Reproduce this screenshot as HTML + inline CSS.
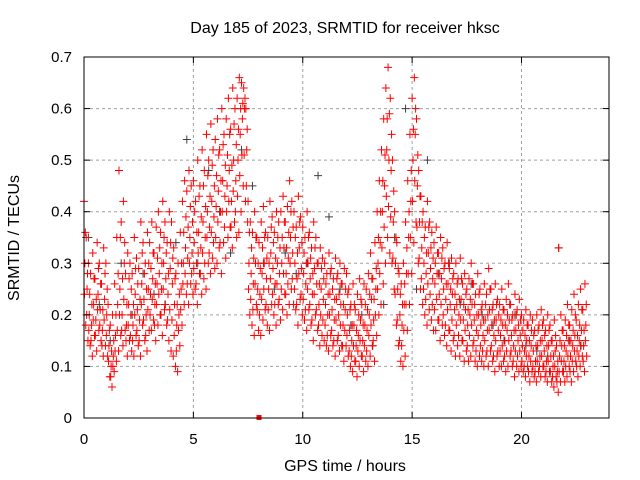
<!DOCTYPE html>
<html><head><meta charset="utf-8"><style>
body{margin:0;background:#fff}
svg{display:block;font-family:"Liberation Sans",sans-serif}
</style></head><body>
<svg id="chart" width="640" height="480">
<g id="grid"></g>
<g id="gray"></g>
<g id="red"></g>
<rect x="84" y="57" width="525" height="361" fill="none" stroke="#000" stroke-width="1"/>
<g id="ticks"></g>
<text x="345" y="33" text-anchor="middle" font-size="16">Day 185 of 2023, SRMTID for receiver hksc</text>
<text x="345" y="471" text-anchor="middle" font-size="16">GPS time / hours</text>
<text transform="translate(19,238) rotate(-90)" text-anchor="middle" font-size="16">SRMTID / TECUs</text>
</svg>
<script>
const xTicks=[0,5,10,15,20];
const yTicks=[0,0.1,0.2,0.3,0.4,0.5,0.6,0.7];
const yTickLabels=["0","0.1","0.2","0.3","0.4","0.5","0.6","0.7"];
const seriesStep=0.1;
const redA=[.30,.25,.20,.18,.22,.19,.24,.21,.17,.23,.20,.14,.10,.12,.16,.22,.25,.20,.30,.18,.22,.20,.18,.24,.21,.19,.26,.23,.20,.25,.24,.27,.22,.26,.28,.25,.30,.27,.24,.29,.26,.22,.18,.20,.25,.30,.33,.31,.35,.32,.34,.30,.36,.33,.38,.35,.40,.37,.42,.39,.41,.44,.40,.46,.43,.45,.48,.42,.50,.46,.50,.55,.58,.60,.52,.30,.28,.26,.30,.25,.24,.28,.30,.27,.25,.32,.29,.26,.30,.28,.30,.33,.28,.31,.35,.32,.30,.27,.33,.29,.28,.26,.30,.27,.24,.29,.26,.22,.25,.23,.22,.20,.24,.21,.19,.23,.20,.22,.18,.21,.20,.17,.15,.18,.14,.16,.19,.15,.18,.17,.20,.23,.19,.25,.30,.34,.40,.45,.52,.50,.48,.38,.30,.25,.20,.18,.22,.28,.35,.42,.50,.55,.45,.38,.33,.30,.28,.32,.29,.27,.26,.28,.24,.27,.25,.23,.26,.22,.24,.21,.22,.20,.23,.19,.21,.18,.20,.22,.19,.17,.20,.18,.16,.19,.17,.21,.18,.16,.19,.17,.16,.18,.15,.17,.19,.16,.14,.17,.15,.16,.14,.13,.15,.12,.14,.13,.11,.14,.12,.15,.13,.11,.14,.12,.10,.13,.09,.12,.14,.11,.13,.15,.12,.14,.16,.13,.15,.17,.14,.18];
const redB=[.18,.15,.14,.12,.16,.13,.17,.15,.12,.14,.12,.08,.06,.09,.11,.13,.16,.14,.17,.12,.15,.13,.12,.16,.14,.12,.18,.15,.13,.17,.17,.19,.15,.18,.20,.16,.21,.18,.15,.13,.12,.10,.09,.14,.18,.22,.24,.22,.26,.24,.25,.22,.28,.24,.27,.25,.30,.28,.31,.29,.30,.33,.28,.34,.31,.35,.37,.33,.38,.35,.36,.40,.45,.42,.38,.20,.18,.16,.22,.17,.16,.19,.21,.18,.17,.22,.20,.18,.22,.19,.21,.24,.20,.22,.25,.22,.21,.18,.23,.20,.19,.17,.21,.18,.15,.20,.17,.14,.16,.15,.14,.13,.16,.14,.12,.15,.13,.14,.11,.14,.12,.10,.09,.11,.08,.10,.12,.09,.11,.10,.12,.14,.11,.16,.20,.22,.26,.30,.35,.32,.30,.25,.18,.14,.11,.10,.12,.17,.22,.28,.34,.38,.30,.25,.22,.20,.18,.21,.19,.17,.17,.19,.15,.18,.16,.14,.17,.13,.15,.12,.14,.12,.15,.11,.13,.11,.12,.14,.11,.10,.12,.11,.10,.12,.10,.13,.11,.09,.12,.10,.10,.11,.09,.10,.12,.10,.08,.10,.09,.10,.09,.08,.10,.07,.09,.08,.07,.09,.08,.10,.08,.07,.09,.07,.06,.08,.05,.07,.09,.07,.08,.10,.07,.09,.11,.08,.10,.12,.09,.12];
const redC=[.42,.35,.30,.28,.32,.27,.34,.30,.26,.33,.30,.22,.18,.20,.26,.35,.48,.38,.42,.28,.32,.30,.28,.35,.31,.29,.38,.34,.30,.36,.34,.38,.32,.37,.40,.36,.42,.38,.34,.40,.38,.33,.28,.30,.36,.42,.46,.44,.48,.45,.46,.42,.50,.45,.52,.48,.55,.50,.57,.52,.54,.58,.52,.60,.55,.58,.62,.56,.64,.60,.62,.66,.65,.64,.60,.42,.38,.36,.40,.35,.34,.38,.41,.36,.35,.42,.39,.36,.40,.38,.40,.43,.38,.41,.46,.42,.40,.37,.43,.39,.37,.35,.40,.36,.33,.38,.35,.30,.33,.31,.30,.28,.32,.29,.27,.31,.28,.30,.26,.29,.28,.25,.22,.26,.21,.24,.27,.22,.26,.25,.28,.32,.27,.34,.40,.46,.52,.58,.64,.68,.62,.50,.40,.34,.28,.26,.30,.38,.46,.55,.62,.66,.58,.48,.43,.40,.37,.42,.38,.36,.34,.37,.32,.35,.33,.30,.34,.29,.31,.28,.30,.27,.31,.26,.28,.25,.27,.30,.26,.24,.28,.25,.22,.26,.24,.29,.25,.22,.26,.23,.22,.25,.21,.23,.26,.22,.20,.24,.21,.23,.20,.19,.21,.18,.20,.19,.17,.20,.18,.21,.19,.17,.20,.18,.15,.19,.14,.33,.20,.17,.19,.22,.18,.21,.24,.19,.22,.25,.21,.26];
const redD=[.36,.28,.24,.22,.27,.23,.29,.26,.21,.28,.25,.17,.13,.15,.20,.28,.35,.27,.34,.22,.27,.25,.22,.29,.26,.23,.32,.28,.25,.30,.29,.32,.26,.31,.33,.30,.35,.32,.28,.34,.31,.27,.22,.24,.30,.36,.39,.37,.41,.38,.40,.36,.43,.39,.45,.41,.47,.43,.49,.45,.47,.51,.46,.53,.49,.51,.55,.49,.57,.53,.56,.60,.61,.62,.56,.36,.33,.31,.35,.30,.29,.33,.35,.31,.30,.37,.34,.31,.35,.33,.35,.38,.33,.36,.40,.37,.35,.32,.38,.34,.32,.30,.35,.31,.28,.33,.30,.26,.29,.27,.26,.24,.28,.25,.23,.27,.24,.26,.22,.25,.24,.21,.18,.22,.17,.20,.23,.18,.22,.21,.24,.27,.23,.29,.35,.40,.46,.51,.58,.59,.55,.44,.35,.29,.24,.22,.26,.33,.40,.48,.56,.60,.51,.43,.38,.35,.32,.37,.33,.31,.30,.32,.28,.31,.29,.26,.30,.25,.27,.24,.26,.23,.27,.22,.24,.21,.23,.26,.22,.20,.24,.21,.19,.22,.20,.25,.21,.19,.22,.20,.19,.21,.18,.20,.22,.19,.17,.20,.18,.19,.17,.16,.18,.15,.17,.16,.14,.17,.15,.18,.16,.14,.17,.15,.12,.16,.11,.15,.17,.14,.16,.18,.15,.17,.20,.16,.18,.21,.17,.22];
const redE=[.24,.20,.17,.15,.19,.16,.21,.18,.14,.19,.16,.11,.08,.10,.13,.17,.20,.17,.23,.15,.18,.16,.15,.20,.17,.15,.22,.19,.16,.21,.20,.23,.18,.22,.24,.20,.25,.22,.19,.21,.19,.16,.13,.17,.21,.26,.28,.26,.30,.28,.29,.26,.32,.28,.32,.30,.35,.32,.36,.34,.35,.38,.34,.40,.37,.40,.42,.37,.44,.40,.43,.47,.51,.51,.45,.25,.23,.21,.26,.21,.20,.23,.25,.22,.21,.27,.24,.22,.26,.23,.25,.28,.24,.26,.30,.27,.25,.22,.28,.24,.23,.21,.25,.22,.19,.24,.21,.18,.20,.19,.18,.16,.20,.17,.15,.19,.16,.18,.14,.17,.16,.13,.12,.14,.11,.13,.15,.12,.14,.13,.16,.18,.15,.20,.25,.28,.33,.37,.43,.41,.39,.31,.24,.19,.15,.14,.17,.22,.28,.35,.42,.46,.37,.31,.27,.25,.23,.26,.24,.22,.21,.23,.19,.22,.20,.18,.21,.17,.19,.16,.18,.16,.19,.15,.17,.14,.16,.18,.15,.13,.16,.14,.13,.15,.13,.17,.14,.12,.15,.13,.13,.14,.12,.13,.15,.13,.11,.13,.12,.13,.11,.10,.12,.09,.11,.10,.09,.11,.10,.12,.10,.09,.11,.09,.08,.10,.07,.09,.11,.09,.10,.12,.09,.11,.13,.10,.12,.14,.11,.15];
const grayStep=0.5;
const grayV=[.35,.22,.15,.30,.20,.28,.24,.22,.34,.54,.30,.48,.40,.32,.52,.45,.30,.25,.32,.28,.30,.47,.39,.25,.18,.20,.14,.22,.35,.60,.25,.50,.28,.30,.22,.26,.20,.18,.15,.20,.14,.13,.12,.33,.15,.14];
const markTimes=[8];
const markVals=[0];

const NS="http://www.w3.org/2000/svg";
const X0=84,X1=609,Y0=418,Y1=57,XMAX=24,YMAX=0.7;
const sx=t=>X0+(X1-X0)*t/XMAX;
const sy=v=>Y0-(Y0-Y1)*v/YMAX;
function mk(tag,attrs,parent){const e=document.createElementNS(NS,tag);for(const k in attrs)e.setAttribute(k,attrs[k]);parent.appendChild(e);return e;}
const grid=document.getElementById('grid'),ticks=document.getElementById('ticks');
xTicks.forEach(t=>{
  const x=sx(t);
  if(t>0){const g=mk('line',{x1:x,x2:x,y1:Y1,y2:Y0,stroke:'#a0a0a0','stroke-dasharray':'3,3'},grid);
  
  }
  mk('line',{x1:x,x2:x,y1:Y0,y2:Y0-6,stroke:'#000'},ticks);
  mk('line',{x1:x,x2:x,y1:Y1,y2:Y1+6,stroke:'#000'},ticks);
  const l=mk('text',{x:x,y:444,'text-anchor':'middle','font-size':15},ticks);
  l.textContent=String(t);
  
  
});
yTicks.forEach((v,i)=>{
  const y=sy(v);
  if(v>0&&v<YMAX){const g=mk('line',{x1:X0,x2:X1,y1:y,y2:y,stroke:'#a0a0a0','stroke-dasharray':'3,3'},grid);
  
  }
  mk('line',{x1:X0,x2:X0+6,y1:y,y2:y,stroke:'#000'},ticks);
  mk('line',{x1:X1,x2:X1-6,y1:y,y2:y,stroke:'#000'},ticks);
  const l=mk('text',{x:72,y:y+5,'text-anchor':'end','font-size':15},ticks);
  l.textContent=yTickLabels[i];
  
  
});
function plus(parent,t,v,color,name){
  const x=sx(t),y=sy(v);
  const p=mk('path',{d:`M${x-4},${y}h8M${x},${y-4}v8`,stroke:color,'stroke-width':1,fill:'none'},parent);
  
  
}
const gray=document.getElementById('gray'),red=document.getElementById('red');
grayV.forEach((v,i)=>plus(gray,i*grayStep+0.2,v,'#404040','gray-point'));
redC.forEach((v,i)=>plus(red,i*seriesStep,v,'#ff0000','red-point'));
redE.forEach((v,i)=>plus(red,i*seriesStep+0.02,v,'#ff0000','red-point'));
redA.forEach((v,i)=>plus(red,i*seriesStep+0.04,v,'#ff0000','red-point'));
redD.forEach((v,i)=>plus(red,i*seriesStep+0.06,v,'#ff0000','red-point'));
redB.forEach((v,i)=>plus(red,i*seriesStep+0.08,v,'#ff0000','red-point'));
markTimes.forEach((t,i)=>{
  const r=mk('rect',{x:sx(t)-2.5,y:sy(markVals[i])-3,width:5,height:5,fill:'#ff0000'},red);
  
  
});
</script>
</body></html>
